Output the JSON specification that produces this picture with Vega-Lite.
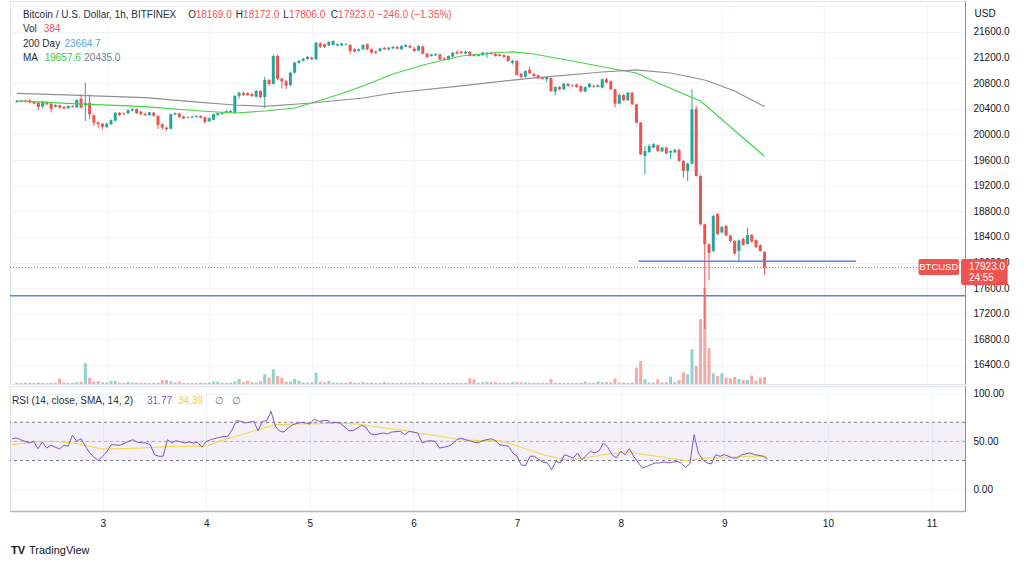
{
"$schema":"https://vega.github.io/schema/vega-lite/v6.json",
"background":"white",
"padding":{"left":8,"top":0,"right":0,"bottom":0},
"spacing":0,
"config":{"font":"Liberation Sans","view":{"stroke":"#e0e3eb"},"axis":{"labelFont":"Liberation Sans","titleFont":"Liberation Sans","ticks":false,"labelOverlap":false}},
"datasets":{
"candles":[
{"t":"2022-11-02T03:00Z","o":20507,"h":20538,"l":20491,"c":20522,"v":60},
{"t":"2022-11-02T04:00Z","o":20522,"h":20545,"l":20500,"c":20510,"v":50},
{"t":"2022-11-02T05:00Z","o":20528,"h":20545,"l":20495,"c":20507,"v":60},
{"t":"2022-11-02T06:00Z","o":20533,"h":20550,"l":20485,"c":20496,"v":70},
{"t":"2022-11-02T07:00Z","o":20505,"h":20520,"l":20470,"c":20480,"v":60},
{"t":"2022-11-02T08:00Z","o":20496,"h":20505,"l":20377,"c":20429,"v":80},
{"t":"2022-11-02T09:00Z","o":20433,"h":20525,"l":20420,"c":20512,"v":60},
{"t":"2022-11-02T10:00Z","o":20510,"h":20520,"l":20460,"c":20470,"v":50},
{"t":"2022-11-02T11:00Z","o":20480,"h":20490,"l":20345,"c":20400,"v":70},
{"t":"2022-11-02T12:00Z","o":20430,"h":20470,"l":20420,"c":20460,"v":60},
{"t":"2022-11-02T13:00Z","o":20455,"h":20465,"l":20405,"c":20418,"v":310},
{"t":"2022-11-02T14:00Z","o":20432,"h":20440,"l":20395,"c":20405,"v":80},
{"t":"2022-11-02T15:00Z","o":20410,"h":20455,"l":20400,"c":20445,"v":60},
{"t":"2022-11-02T16:00Z","o":20445,"h":20455,"l":20420,"c":20430,"v":70},
{"t":"2022-11-02T17:00Z","o":20425,"h":20550,"l":20415,"c":20538,"v":100},
{"t":"2022-11-02T18:00Z","o":20558,"h":20627,"l":20410,"c":20418,"v":130},
{"t":"2022-11-02T19:00Z","o":20455,"h":20808,"l":20210,"c":20495,"v":1140},
{"t":"2022-11-02T20:00Z","o":20495,"h":20627,"l":20240,"c":20315,"v":350},
{"t":"2022-11-02T21:00Z","o":20300,"h":20315,"l":20132,"c":20184,"v":130},
{"t":"2022-11-02T22:00Z","o":20190,"h":20200,"l":20105,"c":20160,"v":165},
{"t":"2022-11-02T23:00Z","o":20168,"h":20180,"l":20080,"c":20120,"v":90},
{"t":"2022-11-03T00:00Z","o":20118,"h":20180,"l":20100,"c":20168,"v":80},
{"t":"2022-11-03T01:00Z","o":20160,"h":20235,"l":20150,"c":20222,"v":165},
{"t":"2022-11-03T02:00Z","o":20215,"h":20355,"l":20205,"c":20340,"v":165},
{"t":"2022-11-03T03:00Z","o":20340,"h":20350,"l":20290,"c":20300,"v":80},
{"t":"2022-11-03T04:00Z","o":20325,"h":20345,"l":20300,"c":20315,"v":60},
{"t":"2022-11-03T05:00Z","o":20330,"h":20390,"l":20320,"c":20378,"v":110},
{"t":"2022-11-03T06:00Z","o":20370,"h":20405,"l":20360,"c":20393,"v":70},
{"t":"2022-11-03T07:00Z","o":20393,"h":20405,"l":20320,"c":20330,"v":70},
{"t":"2022-11-03T08:00Z","o":20355,"h":20365,"l":20300,"c":20315,"v":60},
{"t":"2022-11-03T09:00Z","o":20320,"h":20340,"l":20290,"c":20300,"v":60},
{"t":"2022-11-03T10:00Z","o":20300,"h":20355,"l":20290,"c":20345,"v":50},
{"t":"2022-11-03T11:00Z","o":20340,"h":20350,"l":20280,"c":20290,"v":60},
{"t":"2022-11-03T12:00Z","o":20290,"h":20300,"l":20085,"c":20150,"v":70},
{"t":"2022-11-03T13:00Z","o":20160,"h":20175,"l":20070,"c":20106,"v":220},
{"t":"2022-11-03T14:00Z","o":20106,"h":20120,"l":20060,"c":20085,"v":220},
{"t":"2022-11-03T15:00Z","o":20090,"h":20325,"l":20080,"c":20315,"v":150},
{"t":"2022-11-03T16:00Z","o":20310,"h":20345,"l":20300,"c":20330,"v":80},
{"t":"2022-11-03T17:00Z","o":20330,"h":20340,"l":20260,"c":20270,"v":130},
{"t":"2022-11-03T18:00Z","o":20280,"h":20295,"l":20240,"c":20250,"v":60},
{"t":"2022-11-03T19:00Z","o":20270,"h":20280,"l":20250,"c":20260,"v":50},
{"t":"2022-11-03T20:00Z","o":20265,"h":20290,"l":20255,"c":20280,"v":50},
{"t":"2022-11-03T21:00Z","o":20275,"h":20300,"l":20265,"c":20290,"v":50},
{"t":"2022-11-03T22:00Z","o":20290,"h":20300,"l":20250,"c":20260,"v":60},
{"t":"2022-11-03T23:00Z","o":20270,"h":20280,"l":20165,"c":20195,"v":70},
{"t":"2022-11-04T00:00Z","o":20205,"h":20265,"l":20195,"c":20255,"v":70},
{"t":"2022-11-04T01:00Z","o":20230,"h":20325,"l":20220,"c":20315,"v":130},
{"t":"2022-11-04T02:00Z","o":20305,"h":20345,"l":20295,"c":20335,"v":130},
{"t":"2022-11-04T03:00Z","o":20320,"h":20355,"l":20310,"c":20345,"v":60},
{"t":"2022-11-04T04:00Z","o":20340,"h":20375,"l":20330,"c":20365,"v":60},
{"t":"2022-11-04T05:00Z","o":20350,"h":20380,"l":20340,"c":20366,"v":60},
{"t":"2022-11-04T06:00Z","o":20340,"h":20615,"l":20330,"c":20600,"v":140},
{"t":"2022-11-04T07:00Z","o":20600,"h":20670,"l":20560,"c":20650,"v":275},
{"t":"2022-11-04T08:00Z","o":20650,"h":20665,"l":20600,"c":20615,"v":100},
{"t":"2022-11-04T09:00Z","o":20645,"h":20660,"l":20600,"c":20615,"v":180},
{"t":"2022-11-04T10:00Z","o":20630,"h":20645,"l":20585,"c":20600,"v":100},
{"t":"2022-11-04T11:00Z","o":20590,"h":20695,"l":20580,"c":20680,"v":80},
{"t":"2022-11-04T12:00Z","o":20680,"h":20690,"l":20570,"c":20585,"v":140},
{"t":"2022-11-04T13:00Z","o":20585,"h":20900,"l":20410,"c":20850,"v":530},
{"t":"2022-11-04T14:00Z","o":20850,"h":20870,"l":20760,"c":20790,"v":350},
{"t":"2022-11-04T15:00Z","o":20790,"h":21245,"l":20775,"c":21225,"v":810},
{"t":"2022-11-04T16:00Z","o":21225,"h":21250,"l":20850,"c":20870,"v":440},
{"t":"2022-11-04T17:00Z","o":20870,"h":20890,"l":20720,"c":20830,"v":350},
{"t":"2022-11-04T18:00Z","o":20830,"h":20850,"l":20710,"c":20760,"v":130},
{"t":"2022-11-04T19:00Z","o":20770,"h":20980,"l":20750,"c":20965,"v":130},
{"t":"2022-11-04T20:00Z","o":20965,"h":21135,"l":20950,"c":21120,"v":275},
{"t":"2022-11-04T21:00Z","o":21120,"h":21165,"l":21105,"c":21150,"v":180},
{"t":"2022-11-04T22:00Z","o":21150,"h":21195,"l":21140,"c":21180,"v":80},
{"t":"2022-11-04T23:00Z","o":21178,"h":21225,"l":21165,"c":21210,"v":80},
{"t":"2022-11-05T00:00Z","o":21200,"h":21215,"l":21160,"c":21175,"v":80},
{"t":"2022-11-05T01:00Z","o":21175,"h":21445,"l":21160,"c":21433,"v":620},
{"t":"2022-11-05T02:00Z","o":21424,"h":21440,"l":21350,"c":21366,"v":110},
{"t":"2022-11-05T03:00Z","o":21408,"h":21420,"l":21350,"c":21366,"v":90},
{"t":"2022-11-05T04:00Z","o":21392,"h":21455,"l":21380,"c":21444,"v":165},
{"t":"2022-11-05T05:00Z","o":21400,"h":21470,"l":21390,"c":21460,"v":80},
{"t":"2022-11-05T06:00Z","o":21387,"h":21420,"l":21375,"c":21408,"v":60},
{"t":"2022-11-05T07:00Z","o":21392,"h":21430,"l":21380,"c":21418,"v":60},
{"t":"2022-11-05T08:00Z","o":21405,"h":21425,"l":21395,"c":21413,"v":60},
{"t":"2022-11-05T09:00Z","o":21397,"h":21410,"l":21260,"c":21303,"v":110},
{"t":"2022-11-05T10:00Z","o":21330,"h":21345,"l":21280,"c":21292,"v":60},
{"t":"2022-11-05T11:00Z","o":21303,"h":21340,"l":21290,"c":21330,"v":60},
{"t":"2022-11-05T12:00Z","o":21330,"h":21410,"l":21320,"c":21397,"v":110},
{"t":"2022-11-05T13:00Z","o":21408,"h":21420,"l":21320,"c":21330,"v":70},
{"t":"2022-11-05T14:00Z","o":21330,"h":21340,"l":21265,"c":21277,"v":70},
{"t":"2022-11-05T15:00Z","o":21300,"h":21310,"l":21250,"c":21277,"v":60},
{"t":"2022-11-05T16:00Z","o":21303,"h":21355,"l":21290,"c":21345,"v":60},
{"t":"2022-11-05T17:00Z","o":21355,"h":21365,"l":21320,"c":21330,"v":110},
{"t":"2022-11-05T18:00Z","o":21330,"h":21365,"l":21320,"c":21355,"v":60},
{"t":"2022-11-05T19:00Z","o":21345,"h":21380,"l":21335,"c":21368,"v":60},
{"t":"2022-11-05T20:00Z","o":21368,"h":21380,"l":21330,"c":21340,"v":60},
{"t":"2022-11-05T21:00Z","o":21330,"h":21395,"l":21320,"c":21380,"v":60},
{"t":"2022-11-05T22:00Z","o":21370,"h":21410,"l":21360,"c":21397,"v":60},
{"t":"2022-11-05T23:00Z","o":21381,"h":21405,"l":21345,"c":21355,"v":60},
{"t":"2022-11-06T00:00Z","o":21340,"h":21365,"l":21290,"c":21303,"v":60},
{"t":"2022-11-06T01:00Z","o":21310,"h":21395,"l":21300,"c":21381,"v":60},
{"t":"2022-11-06T02:00Z","o":21375,"h":21390,"l":21250,"c":21260,"v":90},
{"t":"2022-11-06T03:00Z","o":21260,"h":21270,"l":21195,"c":21210,"v":60},
{"t":"2022-11-06T04:00Z","o":21225,"h":21260,"l":21215,"c":21245,"v":60},
{"t":"2022-11-06T05:00Z","o":21235,"h":21265,"l":21225,"c":21255,"v":60},
{"t":"2022-11-06T06:00Z","o":21250,"h":21260,"l":21160,"c":21170,"v":60},
{"t":"2022-11-06T07:00Z","o":21185,"h":21210,"l":21155,"c":21165,"v":60},
{"t":"2022-11-06T08:00Z","o":21170,"h":21235,"l":21160,"c":21225,"v":60},
{"t":"2022-11-06T09:00Z","o":21215,"h":21290,"l":21205,"c":21277,"v":70},
{"t":"2022-11-06T10:00Z","o":21285,"h":21315,"l":21250,"c":21262,"v":70},
{"t":"2022-11-06T11:00Z","o":21290,"h":21305,"l":21260,"c":21270,"v":60},
{"t":"2022-11-06T12:00Z","o":21265,"h":21305,"l":21255,"c":21290,"v":60},
{"t":"2022-11-06T13:00Z","o":21290,"h":21300,"l":21215,"c":21225,"v":310},
{"t":"2022-11-06T14:00Z","o":21245,"h":21255,"l":21215,"c":21225,"v":260},
{"t":"2022-11-06T15:00Z","o":21225,"h":21255,"l":21215,"c":21245,"v":60},
{"t":"2022-11-06T16:00Z","o":21240,"h":21290,"l":21230,"c":21277,"v":90},
{"t":"2022-11-06T17:00Z","o":21250,"h":21290,"l":21200,"c":21265,"v":110},
{"t":"2022-11-06T18:00Z","o":21280,"h":21290,"l":21245,"c":21255,"v":110},
{"t":"2022-11-06T19:00Z","o":21260,"h":21270,"l":21215,"c":21225,"v":110},
{"t":"2022-11-06T20:00Z","o":21250,"h":21260,"l":21215,"c":21225,"v":60},
{"t":"2022-11-06T21:00Z","o":21240,"h":21250,"l":21195,"c":21210,"v":60},
{"t":"2022-11-06T22:00Z","o":21225,"h":21235,"l":21135,"c":21147,"v":60},
{"t":"2022-11-06T23:00Z","o":21120,"h":21165,"l":21090,"c":21150,"v":110},
{"t":"2022-11-07T00:00Z","o":21150,"h":21160,"l":20920,"c":20930,"v":110},
{"t":"2022-11-07T01:00Z","o":20950,"h":20960,"l":20875,"c":20897,"v":80},
{"t":"2022-11-07T02:00Z","o":20900,"h":21000,"l":20890,"c":20990,"v":80},
{"t":"2022-11-07T03:00Z","o":21010,"h":21060,"l":20945,"c":20955,"v":60},
{"t":"2022-11-07T04:00Z","o":20945,"h":20955,"l":20900,"c":20913,"v":60},
{"t":"2022-11-07T05:00Z","o":20925,"h":20935,"l":20865,"c":20875,"v":60},
{"t":"2022-11-07T06:00Z","o":20885,"h":20900,"l":20860,"c":20865,"v":60},
{"t":"2022-11-07T07:00Z","o":20860,"h":20905,"l":20810,"c":20897,"v":60},
{"t":"2022-11-07T08:00Z","o":20880,"h":20890,"l":20665,"c":20679,"v":275},
{"t":"2022-11-07T09:00Z","o":20670,"h":20750,"l":20610,"c":20740,"v":60},
{"t":"2022-11-07T10:00Z","o":20740,"h":20755,"l":20690,"c":20705,"v":60},
{"t":"2022-11-07T11:00Z","o":20705,"h":20805,"l":20695,"c":20793,"v":60},
{"t":"2022-11-07T12:00Z","o":20790,"h":20800,"l":20745,"c":20757,"v":60},
{"t":"2022-11-07T13:00Z","o":20765,"h":20785,"l":20745,"c":20755,"v":60},
{"t":"2022-11-07T14:00Z","o":20780,"h":20790,"l":20730,"c":20740,"v":60},
{"t":"2022-11-07T15:00Z","o":20755,"h":20765,"l":20660,"c":20670,"v":60},
{"t":"2022-11-07T16:00Z","o":20670,"h":20750,"l":20660,"c":20740,"v":140},
{"t":"2022-11-07T17:00Z","o":20740,"h":20800,"l":20730,"c":20790,"v":60},
{"t":"2022-11-07T18:00Z","o":20760,"h":20775,"l":20730,"c":20745,"v":60},
{"t":"2022-11-07T19:00Z","o":20745,"h":20780,"l":20735,"c":20770,"v":140},
{"t":"2022-11-07T20:00Z","o":20730,"h":20875,"l":20720,"c":20860,"v":100},
{"t":"2022-11-07T21:00Z","o":20860,"h":20885,"l":20800,"c":20810,"v":100},
{"t":"2022-11-07T22:00Z","o":20830,"h":20840,"l":20695,"c":20705,"v":90},
{"t":"2022-11-07T23:00Z","o":20705,"h":20715,"l":20420,"c":20480,"v":310},
{"t":"2022-11-08T00:00Z","o":20480,"h":20630,"l":20470,"c":20616,"v":80},
{"t":"2022-11-08T01:00Z","o":20616,"h":20630,"l":20520,"c":20535,"v":80},
{"t":"2022-11-08T02:00Z","o":20535,"h":20665,"l":20525,"c":20652,"v":60},
{"t":"2022-11-08T03:00Z","o":20652,"h":20665,"l":20460,"c":20470,"v":80},
{"t":"2022-11-08T04:00Z","o":20470,"h":20480,"l":20170,"c":20184,"v":900},
{"t":"2022-11-08T05:00Z","o":20184,"h":20195,"l":19680,"c":19690,"v":1265},
{"t":"2022-11-08T06:00Z","o":19664,"h":19820,"l":19378,"c":19742,"v":260},
{"t":"2022-11-08T07:00Z","o":19725,"h":19850,"l":19710,"c":19820,"v":80},
{"t":"2022-11-08T08:00Z","o":19795,"h":19865,"l":19785,"c":19846,"v":80},
{"t":"2022-11-08T09:00Z","o":19830,"h":19845,"l":19730,"c":19742,"v":260},
{"t":"2022-11-08T10:00Z","o":19735,"h":19810,"l":19725,"c":19795,"v":80},
{"t":"2022-11-08T11:00Z","o":19795,"h":19810,"l":19690,"c":19700,"v":100},
{"t":"2022-11-08T12:00Z","o":19716,"h":19755,"l":19617,"c":19742,"v":400},
{"t":"2022-11-08T13:00Z","o":19720,"h":19775,"l":19710,"c":19760,"v":100},
{"t":"2022-11-08T14:00Z","o":19760,"h":19775,"l":19575,"c":19586,"v":220},
{"t":"2022-11-08T15:00Z","o":19586,"h":19600,"l":19325,"c":19430,"v":640},
{"t":"2022-11-08T16:00Z","o":19430,"h":19560,"l":19273,"c":19544,"v":530},
{"t":"2022-11-08T17:00Z","o":19544,"h":20705,"l":19530,"c":20393,"v":1900},
{"t":"2022-11-08T18:00Z","o":20393,"h":20445,"l":19340,"c":19351,"v":990},
{"t":"2022-11-08T19:00Z","o":19351,"h":19365,"l":18580,"c":18597,"v":3560},
{"t":"2022-11-08T20:00Z","o":18597,"h":18610,"l":16960,"c":18285,"v":5260},
{"t":"2022-11-08T21:00Z","o":18285,"h":18300,"l":17720,"c":18150,"v":1960},
{"t":"2022-11-08T22:00Z","o":18180,"h":18745,"l":18165,"c":18727,"v":590},
{"t":"2022-11-08T23:00Z","o":18758,"h":18770,"l":18430,"c":18446,"v":440},
{"t":"2022-11-09T00:00Z","o":18470,"h":18570,"l":18455,"c":18555,"v":590},
{"t":"2022-11-09T01:00Z","o":18571,"h":18585,"l":18410,"c":18420,"v":350},
{"t":"2022-11-09T02:00Z","o":18420,"h":18435,"l":18320,"c":18336,"v":310},
{"t":"2022-11-09T03:00Z","o":18336,"h":18350,"l":18125,"c":18140,"v":385},
{"t":"2022-11-09T04:00Z","o":18180,"h":18360,"l":18024,"c":18345,"v":275},
{"t":"2022-11-09T05:00Z","o":18370,"h":18385,"l":18260,"c":18275,"v":220},
{"t":"2022-11-09T06:00Z","o":18290,"h":18545,"l":18280,"c":18430,"v":220},
{"t":"2022-11-09T07:00Z","o":18430,"h":18445,"l":18310,"c":18325,"v":455},
{"t":"2022-11-09T08:00Z","o":18350,"h":18365,"l":18225,"c":18240,"v":180},
{"t":"2022-11-09T09:00Z","o":18270,"h":18285,"l":18165,"c":18180,"v":350},
{"t":"2022-11-09T10:00Z","o":18169,"h":18172,"l":17806,"c":17923,"v":384}
],
"ma":[
{"t":"2022-11-02T03:00Z","s":"fast","m":20523},{"t":"2022-11-02T16:00Z","s":"fast","m":20480},{"t":"2022-11-03T09:00Z","s":"fast","m":20433},{"t":"2022-11-03T22:00Z","s":"fast","m":20366},{"t":"2022-11-04T06:00Z","s":"fast","m":20335},{"t":"2022-11-04T13:00Z","s":"fast","m":20366},{"t":"2022-11-04T20:00Z","s":"fast","m":20413},{"t":"2022-11-05T00:00Z","s":"fast","m":20491},{"t":"2022-11-05T06:00Z","s":"fast","m":20616},{"t":"2022-11-05T12:00Z","s":"fast","m":20757},{"t":"2022-11-05T19:00Z","s":"fast","m":20944},{"t":"2022-11-06T03:00Z","s":"fast","m":21100},{"t":"2022-11-06T11:00Z","s":"fast","m":21225},{"t":"2022-11-06T18:00Z","s":"fast","m":21272},{"t":"2022-11-06T23:00Z","s":"fast","m":21290},{"t":"2022-11-07T04:00Z","s":"fast","m":21256},{"t":"2022-11-07T13:00Z","s":"fast","m":21147},{"t":"2022-11-08T00:00Z","s":"fast","m":21007},{"t":"2022-11-08T04:00Z","s":"fast","m":20960},{"t":"2022-11-08T08:00Z","s":"fast","m":20835},{"t":"2022-11-08T17:00Z","s":"fast","m":20578},{"t":"2022-11-08T19:00Z","s":"fast","m":20523},{"t":"2022-11-09T10:00Z","s":"fast","m":19658},
{"t":"2022-11-02T03:00Z","s":"slow","m":20640},{"t":"2022-11-02T16:00Z","s":"slow","m":20615},{"t":"2022-11-03T09:00Z","s":"slow","m":20575},{"t":"2022-11-03T22:00Z","s":"slow","m":20500},{"t":"2022-11-04T06:00Z","s":"slow","m":20460},{"t":"2022-11-04T13:00Z","s":"slow","m":20440},{"t":"2022-11-05T00:00Z","s":"slow","m":20491},{"t":"2022-11-05T12:00Z","s":"slow","m":20569},{"t":"2022-11-05T19:00Z","s":"slow","m":20647},{"t":"2022-11-06T11:00Z","s":"slow","m":20760},{"t":"2022-11-07T03:00Z","s":"slow","m":20877},{"t":"2022-11-07T20:00Z","s":"slow","m":20975},{"t":"2022-11-08T04:00Z","s":"slow","m":21007},{"t":"2022-11-08T12:00Z","s":"slow","m":20960},{"t":"2022-11-08T20:00Z","s":"slow","m":20850},{"t":"2022-11-09T03:00Z","s":"slow","m":20678},{"t":"2022-11-09T10:00Z","s":"slow","m":20435}
],
"rsi":[
{"t":"2022-11-02T03:00Z","r":52.8},{"t":"2022-11-02T04:00Z","r":53.6},{"t":"2022-11-02T05:00Z","r":51.8},{"t":"2022-11-02T07:00Z","r":48.4},{"t":"2022-11-02T08:00Z","r":50.1},{"t":"2022-11-02T09:00Z","r":42.4},{"t":"2022-11-02T10:00Z","r":49.4},{"t":"2022-11-02T11:00Z","r":43.1},{"t":"2022-11-02T12:00Z","r":46},{"t":"2022-11-02T14:00Z","r":42.1},{"t":"2022-11-02T15:00Z","r":46},{"t":"2022-11-02T16:00Z","r":44.9},{"t":"2022-11-02T17:00Z","r":56.4},{"t":"2022-11-02T18:00Z","r":50.1},{"t":"2022-11-02T19:00Z","r":52.8},{"t":"2022-11-02T20:00Z","r":44.9},{"t":"2022-11-02T21:00Z","r":37.9},{"t":"2022-11-02T22:00Z","r":33.4},{"t":"2022-11-02T23:00Z","r":30.3},
{"t":"2022-11-03T00:00Z","r":34.5},{"t":"2022-11-03T01:00Z","r":39.7},{"t":"2022-11-03T02:00Z","r":46.6},{"t":"2022-11-03T04:00Z","r":46},{"t":"2022-11-03T06:00Z","r":50.1},{"t":"2022-11-03T07:00Z","r":51.8},{"t":"2022-11-03T08:00Z","r":49.1},{"t":"2022-11-03T10:00Z","r":48.4},{"t":"2022-11-03T11:00Z","r":46.6},{"t":"2022-11-03T12:00Z","r":36.1},{"t":"2022-11-03T13:00Z","r":34.5},{"t":"2022-11-03T14:00Z","r":34.5},{"t":"2022-11-03T15:00Z","r":51.8},{"t":"2022-11-03T16:00Z","r":48.4},{"t":"2022-11-03T17:00Z","r":50.8},{"t":"2022-11-03T19:00Z","r":48.4},{"t":"2022-11-03T20:00Z","r":49.4},{"t":"2022-11-03T21:00Z","r":48.4},{"t":"2022-11-03T22:00Z","r":49.1},{"t":"2022-11-03T23:00Z","r":43.9},
{"t":"2022-11-04T00:00Z","r":50.1},{"t":"2022-11-04T01:00Z","r":51.8},{"t":"2022-11-04T03:00Z","r":54.3},{"t":"2022-11-04T05:00Z","r":55.4},{"t":"2022-11-04T06:00Z","r":62.2},{"t":"2022-11-04T07:00Z","r":71.7},{"t":"2022-11-04T08:00Z","r":71},{"t":"2022-11-04T09:00Z","r":69.2},{"t":"2022-11-04T11:00Z","r":71},{"t":"2022-11-04T12:00Z","r":61.2},{"t":"2022-11-04T13:00Z","r":71},{"t":"2022-11-04T14:00Z","r":71.7},{"t":"2022-11-04T15:00Z","r":81.5},{"t":"2022-11-04T16:00Z","r":65.8},{"t":"2022-11-04T17:00Z","r":60.6},{"t":"2022-11-04T18:00Z","r":59.8},{"t":"2022-11-04T19:00Z","r":64},{"t":"2022-11-04T20:00Z","r":67.5},{"t":"2022-11-04T22:00Z","r":70},{"t":"2022-11-04T23:00Z","r":69.2},
{"t":"2022-11-05T00:00Z","r":68.2},{"t":"2022-11-05T01:00Z","r":73.4},{"t":"2022-11-05T02:00Z","r":71},{"t":"2022-11-05T04:00Z","r":72.1},{"t":"2022-11-05T05:00Z","r":69.2},{"t":"2022-11-05T06:00Z","r":70},{"t":"2022-11-05T07:00Z","r":69.2},{"t":"2022-11-05T09:00Z","r":61.2},{"t":"2022-11-05T10:00Z","r":61.2},{"t":"2022-11-05T12:00Z","r":66.8},{"t":"2022-11-05T13:00Z","r":64.8},{"t":"2022-11-05T14:00Z","r":57.8},{"t":"2022-11-05T15:00Z","r":57},{"t":"2022-11-05T17:00Z","r":58.8},{"t":"2022-11-05T18:00Z","r":57.8},{"t":"2022-11-05T19:00Z","r":59.8},{"t":"2022-11-05T21:00Z","r":60.6},{"t":"2022-11-05T22:00Z","r":57},{"t":"2022-11-05T23:00Z","r":60.6},
{"t":"2022-11-06T01:00Z","r":58.8},{"t":"2022-11-06T02:00Z","r":48.4},{"t":"2022-11-06T03:00Z","r":50.1},{"t":"2022-11-06T04:00Z","r":50.8},{"t":"2022-11-06T05:00Z","r":50.1},{"t":"2022-11-06T06:00Z","r":43.1},{"t":"2022-11-06T08:00Z","r":44.9},{"t":"2022-11-06T09:00Z","r":47.3},{"t":"2022-11-06T10:00Z","r":51.8},{"t":"2022-11-06T11:00Z","r":53.6},{"t":"2022-11-06T12:00Z","r":51.8},{"t":"2022-11-06T14:00Z","r":49.4},{"t":"2022-11-06T15:00Z","r":48.4},{"t":"2022-11-06T16:00Z","r":50.8},{"t":"2022-11-06T18:00Z","r":52.8},{"t":"2022-11-06T19:00Z","r":50.8},{"t":"2022-11-06T20:00Z","r":46.6},{"t":"2022-11-06T22:00Z","r":44.9},{"t":"2022-11-06T23:00Z","r":37.9},
{"t":"2022-11-07T00:00Z","r":34.5},{"t":"2022-11-07T01:00Z","r":25.1},{"t":"2022-11-07T02:00Z","r":25.1},{"t":"2022-11-07T03:00Z","r":34.5},{"t":"2022-11-07T04:00Z","r":34.5},{"t":"2022-11-07T05:00Z","r":30.9},{"t":"2022-11-07T06:00Z","r":28.5},{"t":"2022-11-07T07:00Z","r":27.5},{"t":"2022-11-07T08:00Z","r":20.5},{"t":"2022-11-07T09:00Z","r":29.2},{"t":"2022-11-07T10:00Z","r":27.5},{"t":"2022-11-07T11:00Z","r":36.1},{"t":"2022-11-07T13:00Z","r":32.7},{"t":"2022-11-07T14:00Z","r":37.9},{"t":"2022-11-07T15:00Z","r":30.9},{"t":"2022-11-07T17:00Z","r":39.7},{"t":"2022-11-07T18:00Z","r":37.9},{"t":"2022-11-07T19:00Z","r":40.3},{"t":"2022-11-07T20:00Z","r":48.4},{"t":"2022-11-07T21:00Z","r":43.9},{"t":"2022-11-07T22:00Z","r":36.1},{"t":"2022-11-07T23:00Z","r":32.7},
{"t":"2022-11-08T00:00Z","r":39.7},{"t":"2022-11-08T01:00Z","r":36.1},{"t":"2022-11-08T02:00Z","r":42.4},{"t":"2022-11-08T03:00Z","r":34.5},{"t":"2022-11-08T05:00Z","r":22.2},{"t":"2022-11-08T06:00Z","r":24},{"t":"2022-11-08T08:00Z","r":27.5},{"t":"2022-11-08T09:00Z","r":27.5},{"t":"2022-11-08T10:00Z","r":28.5},{"t":"2022-11-08T11:00Z","r":27.5},{"t":"2022-11-08T13:00Z","r":29.2},{"t":"2022-11-08T14:00Z","r":27.5},{"t":"2022-11-08T15:00Z","r":23},{"t":"2022-11-08T16:00Z","r":26.4},{"t":"2022-11-08T17:00Z","r":57},{"t":"2022-11-08T18:00Z","r":37.9},{"t":"2022-11-08T19:00Z","r":30.9},{"t":"2022-11-08T20:00Z","r":27.5},{"t":"2022-11-08T21:00Z","r":26.4},{"t":"2022-11-08T22:00Z","r":36.1},{"t":"2022-11-08T23:00Z","r":34.5},
{"t":"2022-11-09T00:00Z","r":36.1},{"t":"2022-11-09T02:00Z","r":32.7},{"t":"2022-11-09T03:00Z","r":32.7},{"t":"2022-11-09T04:00Z","r":36.1},{"t":"2022-11-09T06:00Z","r":37.9},{"t":"2022-11-09T07:00Z","r":36.1},{"t":"2022-11-09T08:00Z","r":35.5},{"t":"2022-11-09T09:00Z","r":34.5},{"t":"2022-11-09T10:00Z","r":31.77}
],
"sma":[
{"t":"2022-11-02T03:00Z","s":46.6},{"t":"2022-11-02T08:00Z","s":49.4},{"t":"2022-11-02T12:00Z","s":50.1},{"t":"2022-11-02T17:00Z","s":48.4},{"t":"2022-11-02T21:00Z","s":44.9},{"t":"2022-11-03T00:00Z","s":42.1},{"t":"2022-11-03T04:00Z","s":42.4},{"t":"2022-11-03T09:00Z","s":43.1},{"t":"2022-11-03T12:00Z","s":43.9},{"t":"2022-11-03T17:00Z","s":44.9},{"t":"2022-11-04T00:00Z","s":44.9},{"t":"2022-11-04T03:00Z","s":50.1},{"t":"2022-11-04T07:00Z","s":55.4},{"t":"2022-11-04T12:00Z","s":62.2},{"t":"2022-11-04T16:00Z","s":67.5},{"t":"2022-11-04T21:00Z","s":68.2},{"t":"2022-11-05T02:00Z","s":68.5},{"t":"2022-11-05T07:00Z","s":69.2},{"t":"2022-11-05T11:00Z","s":68.2},{"t":"2022-11-05T16:00Z","s":64.8},{"t":"2022-11-05T21:00Z","s":62.2},{"t":"2022-11-06T01:00Z","s":58.8},{"t":"2022-11-06T06:00Z","s":55.4},{"t":"2022-11-06T11:00Z","s":51.8},{"t":"2022-11-06T16:00Z","s":50.8},{"t":"2022-11-06T20:00Z","s":50.8},{"t":"2022-11-07T01:00Z","s":43.9},{"t":"2022-11-07T06:00Z","s":36.1},{"t":"2022-11-07T11:00Z","s":30.9},{"t":"2022-11-07T15:00Z","s":32},{"t":"2022-11-07T20:00Z","s":36.1},{"t":"2022-11-08T01:00Z","s":39},{"t":"2022-11-08T06:00Z","s":36.1},{"t":"2022-11-08T10:00Z","s":33.4},{"t":"2022-11-08T15:00Z","s":29.9},{"t":"2022-11-08T20:00Z","s":32.7},{"t":"2022-11-09T00:00Z","s":32.7},{"t":"2022-11-09T05:00Z","s":34.5},{"t":"2022-11-09T10:00Z","s":34.39}
]
},
"vconcat":[
{
"width":955,"height":383,
"resolve":{"scale":{"y":"independent"}},
"layer":[
{"data":{"name":"candles"},"mark":{"type":"bar","width":3,"opacity":0.5},
 "encoding":{
  "x":{"field":"t","type":"temporal","scale":{"type":"utc","domain":[{"year":2022,"month":11,"date":2,"hours":2,"minutes":32,"utc":true},{"year":2022,"month":11,"date":11,"hours":7,"minutes":45,"utc":true}]},
   "axis":{"title":null,"labels":false,"domain":false,"ticks":false,"grid":true,"gridColor":"#f0f3fa","tickCount":30,"values":[{"year":2022,"month":11,"date":3,"utc":true},{"year":2022,"month":11,"date":4,"utc":true},{"year":2022,"month":11,"date":5,"utc":true},{"year":2022,"month":11,"date":6,"utc":true},{"year":2022,"month":11,"date":7,"utc":true},{"year":2022,"month":11,"date":8,"utc":true},{"year":2022,"month":11,"date":9,"utc":true},{"year":2022,"month":11,"date":10,"utc":true},{"year":2022,"month":11,"date":11,"utc":true}]}},
  "y":{"field":"v","type":"quantitative","scale":{"domain":[0,21000],"nice":false},"axis":null},
  "color":{"condition":{"test":"datum.c >= datum.o","value":"#26a69a"},"value":"#ef5350"}}},
{"layer":[
 {"data":{"values":[{}]},"mark":{"type":"rule","color":"#f0f3fa","strokeWidth":1},
  "encoding":{"y":{"datum":22000,"type":"quantitative","scale":{"domain":[16103,22084],"nice":false,"zero":false},
    "axis":{"orient":"right","values":[16400,16800,17200,17600,18000,18400,18800,19200,19600,20000,20400,20800,21200,21600],"tickCount":30,"format":".1f","labelOverlap":false,"grid":true,"gridColor":"#f0f3fa","domain":true,"domainColor":"#8a8d96","ticks":false,"labelPadding":8,"labelFontSize":10,"labelColor":"#131722","title":"USD","titleAngle":0,"titleX":9,"titleY":12,"titleAlign":"left","titleBaseline":"middle","titleFontWeight":"normal","titleFontSize":10,"titleColor":"#131722"}}}},
 {"data":{"name":"candles"},"mark":{"type":"rule","strokeWidth":1},
  "encoding":{
   "x":{"field":"t","type":"temporal"},
   "y":{"field":"l","type":"quantitative"},
   "y2":{"field":"h"},
   "color":{"condition":{"test":"datum.c >= datum.o","value":"#26a69a"},"value":"#ef5350"}}},
 {"data":{"name":"candles"},"mark":{"type":"bar","width":3},
  "encoding":{
   "x":{"field":"t","type":"temporal"},
   "y":{"field":"o","type":"quantitative"},
   "y2":{"field":"c"},
   "color":{"condition":{"test":"datum.c >= datum.o","value":"#26a69a"},"value":"#ef5350"}}},
 {"data":{"name":"ma"},"mark":{"type":"line","strokeWidth":1.2},
  "encoding":{
   "x":{"field":"t","type":"temporal"},
   "y":{"field":"m","type":"quantitative"},
   "color":{"field":"s","type":"nominal","scale":{"domain":["fast","slow"],"range":["#44d444","#8f8f94"]},"legend":null}}},
 {"data":{"values":[{}]},"mark":{"type":"rule","color":"#5b82f0","strokeWidth":1.5},"encoding":{"y":{"datum":17480}}},
 {"data":{"values":[{}]},"mark":{"type":"rule","color":"#5b82f0","strokeWidth":1.5},
  "encoding":{"x":{"datum":{"year":2022,"month":11,"date":8,"hours":4,"minutes":28,"utc":true}},"x2":{"datum":{"year":2022,"month":11,"date":10,"hours":7,"minutes":26,"utc":true}},"y":{"datum":18020}}},
 {"data":{"values":[{}]},"mark":{"type":"rule","color":"#ef5350","strokeWidth":1,"strokeDash":[1,2]},"encoding":{"y":{"datum":17923}}},
 {"data":{"values":[{}]},"mark":{"type":"rect","color":"#ef5350","cornerRadius":2},
  "encoding":{"x":{"datum":{"year":2022,"month":11,"date":10,"hours":22,"minutes":2,"utc":true}},"x2":{"datum":{"year":2022,"month":11,"date":11,"hours":7,"minutes":31,"utc":true}},"y":{"datum":18055},"y2":{"datum":17806}}},
 {"data":{"values":[{}]},"mark":{"type":"text","text":"BTCUSD","color":"white","fontSize":9.5,"align":"center","baseline":"middle"},
  "encoding":{"x":{"datum":{"year":2022,"month":11,"date":11,"hours":2,"minutes":47,"utc":true}},"y":{"datum":17930}}},
 {"data":{"values":[{}]},"mark":{"type":"rect","color":"#ef5350","cornerRadius":2},
  "encoding":{"x":{"datum":{"year":2022,"month":11,"date":11,"hours":7,"minutes":59,"utc":true}},"x2":{"datum":{"year":2022,"month":11,"date":11,"hours":18,"minutes":54,"utc":true}},"y":{"datum":18055},"y2":{"datum":17648}}},
 {"data":{"values":[{}]},"mark":{"type":"text","text":"17923.0","color":"white","fontSize":10,"align":"left","baseline":"middle"},
  "encoding":{"x":{"datum":{"year":2022,"month":11,"date":11,"hours":9,"minutes":50,"utc":true}},"y":{"datum":17930}}},
 {"data":{"values":[{}]},"mark":{"type":"text","text":"24:55","color":"white","fontSize":10,"align":"left","baseline":"middle"},
  "encoding":{"x":{"datum":{"year":2022,"month":11,"date":11,"hours":9,"minutes":50,"utc":true}},"y":{"datum":17751}}},
 {"data":{"values":[{}]},"mark":{"type":"text","text":"Bitcoin / U.S. Dollar, 1h, BITFINEX","color":"#2a2e39","fontSize":10,"align":"left","baseline":"middle"},
  "encoding":{"x":{"datum":{"year":2022,"month":11,"date":2,"hours":4,"minutes":23,"utc":true}},"y":{"datum":21865}}},
 {"data":{"values":[{}]},"mark":{"type":"text","text":"O","color":"#2a2e39","fontSize":10,"align":"left","baseline":"middle"},
  "encoding":{"x":{"datum":{"year":2022,"month":11,"date":3,"hours":19,"minutes":4,"utc":true}},"y":{"datum":21865}}},
 {"data":{"values":[{}]},"mark":{"type":"text","text":"18169.0","color":"#ef5350","fontSize":10,"align":"left","baseline":"middle"},
  "encoding":{"x":{"datum":{"year":2022,"month":11,"date":3,"hours":20,"minutes":49,"utc":true}},"y":{"datum":21865}}},
 {"data":{"values":[{}]},"mark":{"type":"text","text":"H","color":"#2a2e39","fontSize":10,"align":"left","baseline":"middle"},
  "encoding":{"x":{"datum":{"year":2022,"month":11,"date":4,"hours":6,"minutes":11,"utc":true}},"y":{"datum":21865}}},
 {"data":{"values":[{}]},"mark":{"type":"text","text":"18172.0","color":"#ef5350","fontSize":10,"align":"left","baseline":"middle"},
  "encoding":{"x":{"datum":{"year":2022,"month":11,"date":4,"hours":7,"minutes":56,"utc":true}},"y":{"datum":21865}}},
 {"data":{"values":[{}]},"mark":{"type":"text","text":"L","color":"#2a2e39","fontSize":10,"align":"left","baseline":"middle"},
  "encoding":{"x":{"datum":{"year":2022,"month":11,"date":4,"hours":17,"minutes":19,"utc":true}},"y":{"datum":21865}}},
 {"data":{"values":[{}]},"mark":{"type":"text","text":"17806.0","color":"#ef5350","fontSize":10,"align":"left","baseline":"middle"},
  "encoding":{"x":{"datum":{"year":2022,"month":11,"date":4,"hours":18,"minutes":42,"utc":true}},"y":{"datum":21865}}},
 {"data":{"values":[{}]},"mark":{"type":"text","text":"C","color":"#2a2e39","fontSize":10,"align":"left","baseline":"middle"},
  "encoding":{"x":{"datum":{"year":2022,"month":11,"date":5,"hours":4,"minutes":26,"utc":true}},"y":{"datum":21865}}},
 {"data":{"values":[{}]},"mark":{"type":"text","text":"17923.0","color":"#ef5350","fontSize":10,"align":"left","baseline":"middle"},
  "encoding":{"x":{"datum":{"year":2022,"month":11,"date":5,"hours":6,"minutes":10,"utc":true}},"y":{"datum":21865}}},
 {"data":{"values":[{}]},"mark":{"type":"text","text":"−246.0 (−1.35%)","color":"#ef5350","fontSize":10,"align":"left","baseline":"middle"},
  "encoding":{"x":{"datum":{"year":2022,"month":11,"date":5,"hours":15,"minutes":19,"utc":true}},"y":{"datum":21865}}},
 {"data":{"values":[{}]},"mark":{"type":"text","text":"Vol","color":"#2a2e39","fontSize":10,"align":"left","baseline":"middle"},
  "encoding":{"x":{"datum":{"year":2022,"month":11,"date":2,"hours":4,"minutes":23,"utc":true}},"y":{"datum":21642}}},
 {"data":{"values":[{}]},"mark":{"type":"text","text":"384","color":"#ef5350","fontSize":10,"align":"left","baseline":"middle"},
  "encoding":{"x":{"datum":{"year":2022,"month":11,"date":2,"hours":9,"minutes":15,"utc":true}},"y":{"datum":21642}}},
 {"data":{"values":[{}]},"mark":{"type":"text","text":"200 Day","color":"#2a2e39","fontSize":10,"align":"left","baseline":"middle"},
  "encoding":{"x":{"datum":{"year":2022,"month":11,"date":2,"hours":4,"minutes":23,"utc":true}},"y":{"datum":21417}}},
 {"data":{"values":[{}]},"mark":{"type":"text","text":"23664.7","color":"#4ea6e2","fontSize":10,"align":"left","baseline":"middle"},
  "encoding":{"x":{"datum":{"year":2022,"month":11,"date":2,"hours":14,"minutes":7,"utc":true}},"y":{"datum":21417}}},
 {"data":{"values":[{}]},"mark":{"type":"text","text":"MA","color":"#2a2e39","fontSize":10,"align":"left","baseline":"middle"},
  "encoding":{"x":{"datum":{"year":2022,"month":11,"date":2,"hours":4,"minutes":23,"utc":true}},"y":{"datum":21189}}},
 {"data":{"values":[{}]},"mark":{"type":"text","text":"19657.6","color":"#3cc83c","fontSize":10,"align":"left","baseline":"middle"},
  "encoding":{"x":{"datum":{"year":2022,"month":11,"date":2,"hours":9,"minutes":29,"utc":true}},"y":{"datum":21189}}},
 {"data":{"values":[{}]},"mark":{"type":"text","text":"20435.0","color":"#787b86","fontSize":10,"align":"left","baseline":"middle"},
  "encoding":{"x":{"datum":{"year":2022,"month":11,"date":2,"hours":18,"minutes":45,"utc":true}},"y":{"datum":21189}}}
]}
]
},
{
"width":955,"height":125,
"layer":[
 {"data":{"values":[{}]},"mark":{"type":"rect","color":"#7e57c2","opacity":0.09},
  "encoding":{
   "x":{"datum":{"year":2022,"month":11,"date":2,"hours":2,"minutes":32,"utc":true},"type":"temporal","scale":{"type":"utc","domain":[{"year":2022,"month":11,"date":2,"hours":2,"minutes":32,"utc":true},{"year":2022,"month":11,"date":11,"hours":7,"minutes":45,"utc":true}]},
    "axis":{"orient":"bottom","title":null,"format":"%-d","tickCount":30,"grid":true,"gridColor":"#f0f3fa","domain":true,"domainColor":"#b2b5be","domainWidth":1.5,"ticks":false,"labelPadding":7,"labelFontSize":10,"labelColor":"#131722",
     "values":[{"year":2022,"month":11,"date":3,"utc":true},{"year":2022,"month":11,"date":4,"utc":true},{"year":2022,"month":11,"date":5,"utc":true},{"year":2022,"month":11,"date":6,"utc":true},{"year":2022,"month":11,"date":7,"utc":true},{"year":2022,"month":11,"date":8,"utc":true},{"year":2022,"month":11,"date":9,"utc":true},{"year":2022,"month":11,"date":10,"utc":true},{"year":2022,"month":11,"date":11,"utc":true}]}},
   "x2":{"datum":{"year":2022,"month":11,"date":11,"hours":7,"minutes":45,"utc":true}},
   "y":{"datum":30,"type":"quantitative","scale":{"domain":[-22.7,107.9],"nice":false,"zero":false},
    "axis":{"orient":"right","title":null,"values":[0,50,100],"format":".2f","labelOverlap":false,"grid":true,"gridColor":"#f0f3fa","domain":true,"domainColor":"#8a8d96","ticks":false,"labelPadding":8,"labelFontSize":10,"labelColor":"#131722"}},
   "y2":{"datum":70}}},
 {"data":{"values":[{}]},"mark":{"type":"rule","color":"#787b86","strokeDash":[3,3],"strokeWidth":1},"encoding":{"y":{"datum":70}}},
 {"data":{"values":[{}]},"mark":{"type":"rule","color":"#787b86","strokeDash":[3,3],"strokeWidth":1,"opacity":0.5},"encoding":{"y":{"datum":50}}},
 {"data":{"values":[{}]},"mark":{"type":"rule","color":"#787b86","strokeDash":[3,3],"strokeWidth":1},"encoding":{"y":{"datum":30}}},
 {"data":{"name":"sma"},"mark":{"type":"line","color":"#f5d63d","strokeWidth":1},
  "encoding":{"x":{"field":"t","type":"temporal"},"y":{"field":"s","type":"quantitative"}}},
 {"data":{"name":"rsi"},"mark":{"type":"line","color":"#7e57c2","strokeWidth":1},
  "encoding":{"x":{"field":"t","type":"temporal"},"y":{"field":"r","type":"quantitative"}}},
 {"data":{"values":[{}]},"mark":{"type":"text","text":"RSI (14, close, SMA, 14, 2)","color":"#2a2e39","fontSize":10,"align":"left","baseline":"middle"},
  "encoding":{"x":{"datum":{"year":2022,"month":11,"date":2,"hours":3,"minutes":0,"utc":true}},"y":{"datum":92.2}}},
 {"data":{"values":[{}]},"mark":{"type":"text","text":"31.77","color":"#7e57c2","fontSize":10,"align":"left","baseline":"middle"},
  "encoding":{"x":{"datum":{"year":2022,"month":11,"date":3,"hours":10,"minutes":16,"utc":true}},"y":{"datum":92.2}}},
 {"data":{"values":[{}]},"mark":{"type":"text","text":"34.39","color":"#f2cf3a","fontSize":10,"align":"left","baseline":"middle"},
  "encoding":{"x":{"datum":{"year":2022,"month":11,"date":3,"hours":17,"minutes":27,"utc":true}},"y":{"datum":92.2}}},
 {"data":{"values":[{}]},"mark":{"type":"text","text":"∅","color":"#787b86","fontSize":10,"align":"left","baseline":"middle"},
  "encoding":{"x":{"datum":{"year":2022,"month":11,"date":4,"hours":2,"minutes":1,"utc":true}},"y":{"datum":92.2}}},
 {"data":{"values":[{}]},"mark":{"type":"text","text":"∅","color":"#787b86","fontSize":10,"align":"left","baseline":"middle"},
  "encoding":{"x":{"datum":{"year":2022,"month":11,"date":4,"hours":5,"minutes":58,"utc":true}},"y":{"datum":92.2}}},
 {"data":{"values":[{}]},"mark":{"type":"text","text":"TV","color":"#131722","fontSize":11,"fontWeight":900,"align":"left","baseline":"middle"},
  "encoding":{"x":{"datum":{"year":2022,"month":11,"date":2,"hours":2,"minutes":46,"utc":true}},"y":{"datum":-64.4}}},
 {"data":{"values":[{}]},"mark":{"type":"text","text":"TradingView","color":"#131722","fontSize":11,"align":"left","baseline":"middle"},
  "encoding":{"x":{"datum":{"year":2022,"month":11,"date":2,"hours":6,"minutes":56,"utc":true}},"y":{"datum":-64.4}}}
]
}
]
}
